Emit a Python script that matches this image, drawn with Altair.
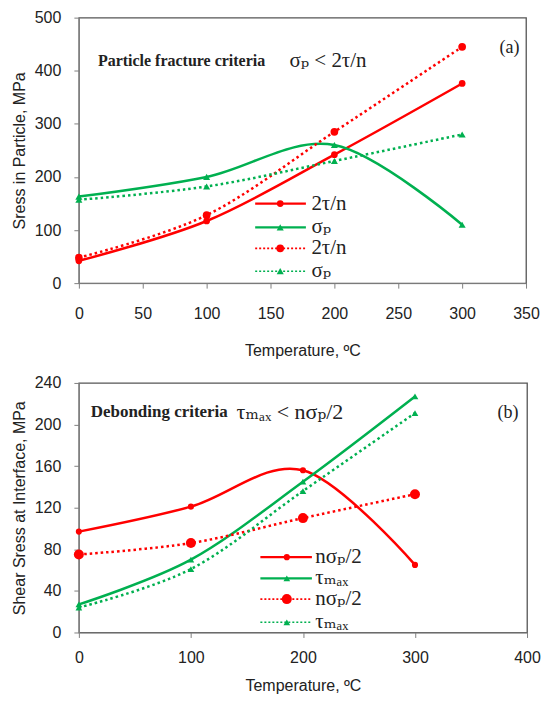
import altair as alt
import pandas as pd

# ---------------- data ----------------
temps = [0, 100, 200, 300]

# panel (a): stress in particle, MPa
a_2tn_solid = [42, 117, 242, 376]
a_sp_solid = [163, 200, 260, 110]
a_2tn_dot = [48, 128, 285, 445]
a_sp_dot = [157, 182, 230, 280]

# panel (b): shear stress at interface, MPa
b_nsp_solid = [97, 121, 156, 65]
b_tmax_solid = [27, 70, 145, 227]
b_nsp_dot = [75, 86, 110, 133]
b_tmax_dot = [24, 61, 136, 211]

a_labels = ["2τ/n", "σₚ", "2τ/n", "σₚ"]
b_labels = ["nσₚ/2", "τₘₐₓ", "nσₚ/2", "τₘₐₓ"]

a_xticks = [0, 50, 100, 150, 200, 250, 300, 350]
a_yticks = [0, 100, 200, 300, 400, 500]
b_xticks = [0, 100, 200, 300, 400]
b_yticks = [0, 40, 80, 120, 160, 200, 240]

RED = "#ff0000"
GREEN = "#00b050"
AXC = "#808080"
TXT = "#222222"
SANS = "Liberation Sans"
SERIF = "Liberation Serif, DejaVu Serif"


def build_panel(series, labels, xdom, xticks, ydom, yticks, ytitle, w, h,
                leg_x1, leg_x2, leg_xm, leg_xl, leg_ys, ann,
                xlab_pad, xtitle_pad, ylab_pad, ytitle_pad):
    X = alt.X("x:Q", scale=alt.Scale(domain=xdom, nice=False, zero=False),
              axis=alt.Axis(values=xticks, grid=False, tickSize=5, tickColor=AXC,
                            domainColor=AXC, labelFont=SANS, labelFontSize=16,
                            labelColor=TXT, labelPadding=xlab_pad, labelFlush=False,
                            title="Temperature, ºC", titleFont=SANS, titleFontSize=16,
                            titleFontWeight="normal", titleColor=TXT,
                            titlePadding=xtitle_pad))
    Y = alt.Y("y:Q", scale=alt.Scale(domain=ydom, nice=False, zero=False),
              axis=alt.Axis(values=yticks, grid=False, tickSize=5, tickColor=AXC,
                            domainColor=AXC, labelFont=SANS, labelFontSize=16,
                            labelColor=TXT, labelPadding=ylab_pad, labelFlush=False,
                            title=ytitle, titleFont=SANS, titleFontSize=16,
                            titleFontWeight="normal", titleColor=TXT,
                            titlePadding=ytitle_pad))
    XS = alt.Scale(domain=xdom, nice=False, zero=False)
    layers = []
    for i, (vals, color, dotted, shape, size) in enumerate(series):
        df = pd.DataFrame({"x": temps, "y": vals})
        line_kw = dict(color=color, strokeWidth=2.5, interpolate="cardinal")
        if dotted:
            line_kw["strokeDash"] = [2.5, 3]
        layers.append(alt.Chart(df).mark_line(**line_kw).encode(x=X, y=Y))
        layers.append(alt.Chart(df).mark_point(filled=True, shape=shape, size=size,
                                               color=color, opacity=1).encode(x=X, y=Y))
        # legend row (in data coordinates)
        ldf = pd.DataFrame({"x": [leg_x1], "x2": [leg_x2], "y": [leg_ys[i]],
                            "xm": [leg_xm], "xl": [leg_xl], "text": [labels[i]]})
        rule_kw = dict(color=color, strokeWidth=2.2 if not dotted else 1.6)
        if dotted:
            rule_kw["strokeDash"] = [2, 2]
        layers.append(alt.Chart(ldf).mark_rule(**rule_kw).encode(
            x=X, x2="x2:Q", y=Y))
        layers.append(alt.Chart(ldf).mark_point(filled=True, shape=shape, size=size,
                                                color=color, opacity=1).encode(
            x=alt.X("xm:Q", scale=XS), y=Y))
        layers.append(alt.Chart(ldf).mark_text(align="left", baseline="middle",
                                               font=SERIF, fontSize=21, color=TXT).encode(
            x=alt.X("xl:Q", scale=XS), y=Y, text="text:N"))
    for (tx, ty, txt, fs, al, fw) in ann:
        adf = pd.DataFrame({"x": [tx], "y": [ty], "text": [txt]})
        layers.append(alt.Chart(adf).mark_text(align=al, baseline="middle", font=SERIF,
                                               fontSize=fs, fontWeight=fw,
                                               color=TXT).encode(
            x=X, y=Y, text="text:N"))
    return alt.layer(*layers).properties(width=w, height=h)


a_series = [
    (a_2tn_solid, RED, False, "circle", 45),
    (a_sp_solid, GREEN, False, "triangle-up", 50),
    (a_2tn_dot, RED, True, "circle", 60),
    (a_sp_dot, GREEN, True, "triangle-up", 50),
]
b_series = [
    (b_nsp_solid, RED, False, "circle", 38),
    (b_tmax_solid, GREEN, False, "triangle-up", 45),
    (b_nsp_dot, RED, True, "circle", 100),
    (b_tmax_dot, GREEN, True, "triangle-up", 45),
]

top = build_panel(
    a_series, a_labels, [0, 350], a_xticks, [0, 500], a_yticks,
    "Sress in Particle, MPa", 448, 266,
    138, 177.7, 157.6, 182, [149.8, 104.9, 65.5, 22.5],
    [(14.9, 417.6, "Particle fracture criteria", 16, "left", "bold"),
     (164.8, 417.6, "σₚ < 2τ/n", 21, "left", "normal"),
     (337, 442, "(a)", 18, "center", "normal")],
    17, 22, 13, 7)

bottom = build_panel(
    b_series, b_labels, [0, 400], b_xticks, [0, 240], b_yticks,
    "Shear Sress at Interface, MPa", 449, 250,
    162, 208, 185.6, 211, [72.4, 52.1, 32.1, 9.8],
    [(10.6, 212.4, "Debonding criteria", 17, "left", "bold"),
     (140.8, 212.4, "τₘₐₓ < nσₚ/2", 22, "left", "normal"),
     (383, 211, "(b)", 18, "center", "normal")],
    12, 12, 13, 7)

chart = alt.vconcat(top, bottom, spacing=14).properties(
    padding={"left": 2, "top": 0, "right": 0, "bottom": 0},
    background="white",
).configure_view(stroke="#555555", strokeWidth=1.3)

chart.save("out.html", embed_options={"renderer": "svg", "actions": False})
